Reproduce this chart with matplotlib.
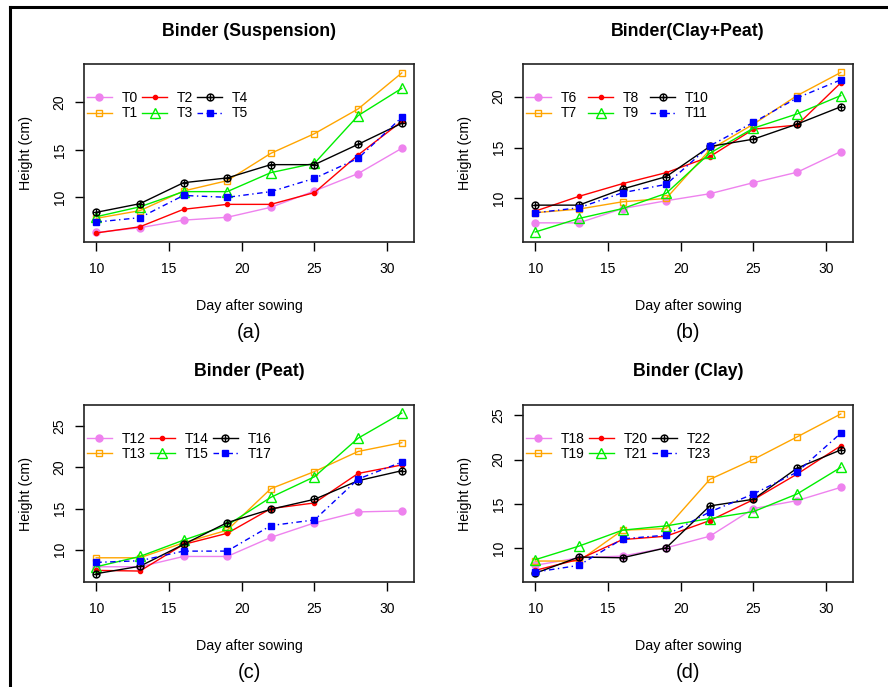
import matplotlib.pyplot as plt
from matplotlib.path import Path
from matplotlib.lines import Line2D

# Datos
dias = [10, 13, 16, 19, 22, 25, 28, 31]

titulos = ['Binder (Suspension)', 'Binder(Clay+Peat)', 'Binder (Peat)', 'Binder (Clay)']
letras = ['(a)', '(b)', '(c)', '(d)']

# Cada panel: 6 tratamientos en el orden de la leyenda
suspension = [
    [6.3, 6.8, 7.6, 7.9, 8.95, 10.67, 12.5, 15.16],      # T0
    [7.79, 8.6, 10.67, 11.75, 14.63, 16.7, 19.3, 23.09],  # T1
    [6.25, 6.9, 8.74, 9.26, 9.26, 10.5, 14.46, 18.0],     # T2
    [7.96, 9.0, 10.6, 10.6, 12.6, 13.58, 18.6, 21.47],    # T3
    [8.42, 9.33, 11.54, 12.04, 13.44, 13.44, 15.58, 17.79],  # T4
    [7.4, 7.86, 10.2, 10.0, 10.6, 12.0, 14.1, 18.42],     # T5
]
clay_peat = [
    [7.6, 7.6, 9.0, 9.77, 10.46, 11.55, 12.57, 14.6],     # T6
    [8.6, 8.95, 9.67, 10.0, 14.77, 17.3, 20.1, 22.37],    # T7
    [8.75, 10.2, 11.45, 12.53, 14.1, 16.8, 17.2, 21.35],  # T8
    [6.7, 8.03, 9.0, 10.5, 14.44, 16.9, 18.3, 20.1],      # T9
    [9.34, 9.34, 10.92, 12.14, 15.1, 15.82, 17.3, 19.0],  # T10
    [8.59, 9.08, 10.56, 11.38, 15.16, 17.47, 19.87, 21.64],  # T11
]
peat = [
    [7.94, 7.94, 9.19, 9.19, 11.5, 13.27, 14.6, 14.72],   # T12
    [9.03, 9.03, 10.85, 12.38, 17.42, 19.5, 21.94, 23.0],  # T13
    [7.5, 7.42, 10.65, 12.0, 15.0, 15.69, 19.27, 20.3],   # T14
    [7.94, 9.19, 11.17, 12.98, 16.37, 18.87, 23.55, 26.6],  # T15
    [7.1, 8.0, 10.65, 13.3, 14.92, 16.13, 18.39, 19.6],   # T16
    [8.47, 8.67, 9.84, 9.84, 12.94, 13.63, 18.59, 20.65],  # T17
]
clay = [
    [8.1, 8.95, 9.14, 10.07, 11.38, 14.49, 15.39, 16.88],  # T18
    [8.58, 8.58, 12.06, 12.24, 17.78, 20.03, 22.57, 25.15],  # T19
    [7.53, 8.77, 11.0, 11.38, 13.14, 15.5, 18.38, 21.56],  # T20
    [8.73, 10.26, 12.06, 12.54, 13.37, 14.15, 16.14, 19.13],  # T21
    [7.2, 9.03, 8.95, 10.07, 14.79, 15.54, 19.05, 21.1],  # T22
    [7.34, 8.09, 11.08, 11.5, 14.12, 16.14, 18.6, 22.98],  # T23
]
paneles = [suspension, clay_peat, peat, clay]
primer_t = [0, 6, 12, 18]
yticks = [[10, 15, 20], [10, 15, 20], [10, 15, 20, 25], [10, 15, 20, 25]]

# =========================================================================== #
# Estilos (como los de R)
circ_mas = Path.make_compound_path(
    Path.unit_circle(),
    Path([[-1, 0], [1, 0], [0, -1], [0, 1]],
         [Path.MOVETO, Path.LINETO, Path.MOVETO, Path.LINETO]))

colores = ['violet', 'orange', 'red', '#00ee00', 'black', 'blue']
marcadores = ['o', 's', 'o', '^', circ_mas, 's']
tamanos = [5, 5, 3, 6.5, 5, 5]
rellenos = [True, False, True, False, False, True]
estilos = ['-', '-', '-', '-', '-', (0, (4, 2.5, 1, 2.5))]

plt.rcParams['font.family'] = ['Liberation Sans', 'DejaVu Sans']

W, H = 888, 687
fig = plt.figure(figsize=(W / 100, H / 100), dpi=100)

# posiciones de los ejes en pixeles: izquierda, arriba, ancho, alto
cajas = [(84, 64, 330, 178), (523, 64, 330, 178),
         (84, 405, 330, 177), (523, 405, 330, 177)]
ylims = [(5.3, 24.03), (5.72, 23.2), (6.09, 27.58), (6.22, 26.16)]
espacio_col = [0.3, 0.8, 0.3, 0.3]

for k in range(4):
    x0, y0, w, h = cajas[k]
    ax = fig.add_axes([x0 / W, 1 - (y0 + h) / H, w / W, h / H])
    for i in range(6):
        col = colores[i]
        ax.plot(dias, paneles[k][i], color=col, lw=1.0,
                linestyle=estilos[i], marker=marcadores[i],
                markersize=tamanos[i],
                markerfacecolor=col if rellenos[i] else 'none',
                markeredgecolor=col, markeredgewidth=1.0,
                label='T%d' % (primer_t[k] + i))
    ax.set_xlim(9.16, 31.84)
    ax.set_ylim(*ylims[k])
    ax.set_xticks([10, 15, 20, 25, 30])
    ax.set_yticks(yticks[k])
    ax.tick_params(axis='x', direction='out', length=6.5, width=1.0,
                   pad=8, labelsize=10)
    ax.tick_params(axis='y', direction='out', length=6.5, width=1.0,
                   pad=6, labelsize=10)
    for lab in ax.get_yticklabels():
        lab.set_rotation(90)
        lab.set_va('center')
    for s in ax.spines.values():
        s.set_linewidth(1.2)
        s.set_color('#222222')

    ax.set_title(titulos[k], fontsize=12.8, fontweight='bold',
                 y=1 + 33 / h, va='center', pad=0)
    ax.set_xlabel('Day after sowing', fontsize=10.3, va='center')
    ax.set_ylabel('Height (cm)', fontsize=10.3, va='center')
    ax.xaxis.set_label_coords(0.5, -64 / h)
    ax.yaxis.set_label_coords(-58 / w, 0.5)
    ax.text(0.5, -90 / h, letras[k], transform=ax.transAxes,
            ha='center', va='center', fontsize=14.5)

    ax.legend(ncol=3, loc='upper left', bbox_to_anchor=(0.009, 0.85),
              frameon=False, fontsize=10, borderpad=0, borderaxespad=0,
              handlelength=1.8, handletextpad=0.7,
              columnspacing=espacio_col[k], labelspacing=0.12)

# Borde negro de la figura (arriba e izquierda)
fig.add_artist(Line2D([10 / W, 1], [1 - 7 / H, 1 - 7 / H], color='black',
                      lw=2.2, transform=fig.transFigure))
fig.add_artist(Line2D([10 / W, 10 / W], [0, 1 - 7 / H], color='black',
                      lw=2.2, transform=fig.transFigure))

plt.savefig('out.png', dpi=100)
